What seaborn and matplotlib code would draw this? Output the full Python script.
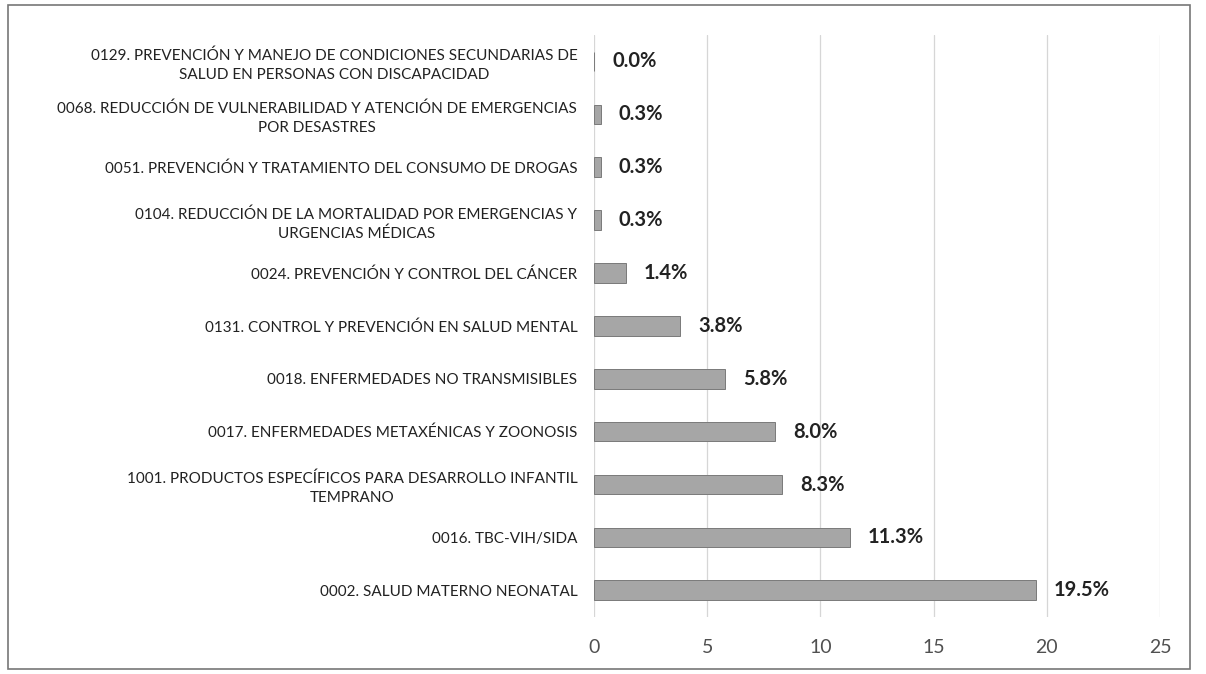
import matplotlib.pyplot as plt
import matplotlib.patches as mpatches
import pandas as pd
import seaborn as sns

# Data (top to bottom)
categories = [
    "0129. PREVENCIÓN Y MANEJO DE CONDICIONES SECUNDARIAS DE\nSALUD EN PERSONAS CON DISCAPACIDAD",
    "0068. REDUCCIÓN DE VULNERABILIDAD Y ATENCIÓN DE EMERGENCIAS\nPOR DESASTRES",
    "0051. PREVENCIÓN Y TRATAMIENTO DEL CONSUMO DE DROGAS",
    "0104. REDUCCIÓN DE LA MORTALIDAD POR EMERGENCIAS Y\nURGENCIAS MÉDICAS",
    "0024. PREVENCIÓN Y CONTROL DEL CÁNCER",
    "0131. CONTROL Y PREVENCIÓN EN SALUD MENTAL",
    "0018. ENFERMEDADES NO TRANSMISIBLES",
    "0017. ENFERMEDADES METAXÉNICAS Y ZOONOSIS",
    "1001. PRODUCTOS ESPECÍFICOS PARA DESARROLLO INFANTIL\nTEMPRANO",
    "0016. TBC-VIH/SIDA",
    "0002. SALUD MATERNO NEONATAL",
]
values = [0.0, 0.3, 0.3, 0.3, 1.4, 3.8, 5.8, 8.0, 8.3, 11.3, 19.5]
x_ticks = [0, 5, 10, 15, 20, 25]

df = pd.DataFrame({"Categoria": categories, "Porcentaje": values})

sns.set_style("white")
plt.rcParams['font.family'] = ['Lato', 'DejaVu Sans']

fig = plt.figure(figsize=(12.06, 6.74), dpi=100)
ax = fig.add_axes([0.4925, 0.085, 0.4695, 0.863])

sns.barplot(data=df, x="Porcentaje", y="Categoria", orient="h", color="#a6a6a6",
            edgecolor="#7a7a7a", linewidth=0.7, width=0.37, saturation=1, ax=ax)

for i, v in enumerate(values):
    ax.annotate(f"{v:.1f}%", xy=(v, i), xytext=(13, 0), textcoords="offset points",
                va="center", ha="left", fontsize=14.5, fontweight="bold", color="#222222")

ax.set_xlim(0, 25)
ax.set_xticks(x_ticks)
ax.set_xlabel("")
ax.set_ylabel("")
ax.grid(axis="x", color="#d6d6d6", linewidth=0.9)
ax.set_axisbelow(True)
for s in ax.spines.values():
    s.set_visible(False)
ax.tick_params(axis="x", length=0, pad=16, labelsize=14, labelcolor="#505050")
ax.tick_params(axis="y", length=0, pad=12, labelsize=11, labelcolor="#222222")
for lbl in ax.get_yticklabels():
    lbl.set_multialignment("center")
    lbl.set_linespacing(1.45)

# outer frame of the chart
fig.patches.append(mpatches.Rectangle((0.007, 0.008), 0.98, 0.985, transform=fig.transFigure,
                                      fill=False, edgecolor="#777777", linewidth=1.2))

fig.savefig("out.png", dpi=100)
plt.close()
